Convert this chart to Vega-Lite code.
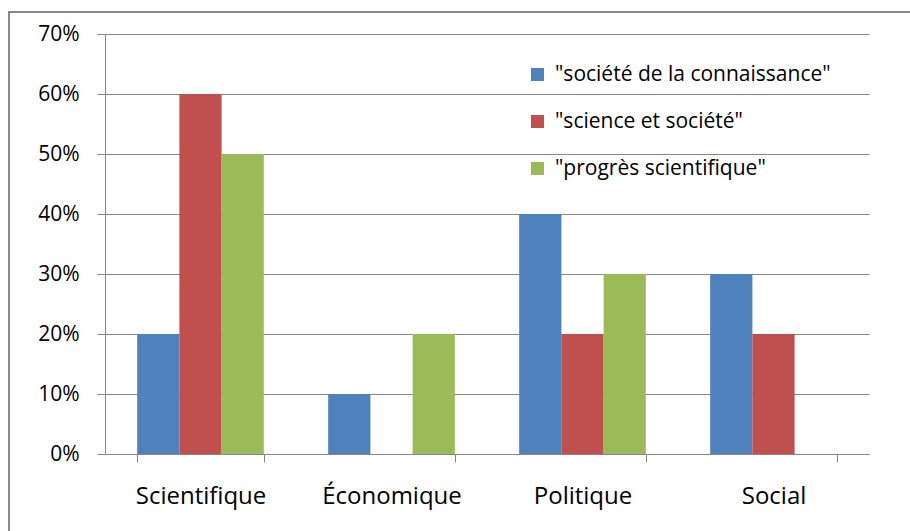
{
  "$schema": "https://vega.github.io/schema/vega-lite/v6.json",
  "width": 902,
  "height": 520,
  "autosize": {"type": "none"},
  "padding": {"left": 9, "top": 12, "right": 0, "bottom": 0},
  "background": "white",
  "config": {
    "view": {"stroke": "#888888", "strokeWidth": 2},
    "font": "Open Sans",
    "axis": {
      "labelFont": "Open Sans",
      "labelColor": "#000000",
      "domainColor": "#888888",
      "tickColor": "#888888",
      "gridColor": "#888888",
      "tickSize": 8,
      "title": null
    }
  },
  "data": {
    "values": [
      {"category": "Scientifique", "series": "\"société de la connaissance\"", "value": 0.2},
      {"category": "Scientifique", "series": "\"science et société\"", "value": 0.6},
      {"category": "Scientifique", "series": "\"progrès scientifique\"", "value": 0.5},
      {"category": "Économique", "series": "\"société de la connaissance\"", "value": 0.1},
      {"category": "Économique", "series": "\"science et société\"", "value": 0.0},
      {"category": "Économique", "series": "\"progrès scientifique\"", "value": 0.2},
      {"category": "Politique", "series": "\"société de la connaissance\"", "value": 0.4},
      {"category": "Politique", "series": "\"science et société\"", "value": 0.2},
      {"category": "Politique", "series": "\"progrès scientifique\"", "value": 0.3},
      {"category": "Social", "series": "\"société de la connaissance\"", "value": 0.3},
      {"category": "Social", "series": "\"science et société\"", "value": 0.2},
      {"category": "Social", "series": "\"progrès scientifique\"", "value": 0.0}
    ]
  },
  "mark": {"type": "bar"},
  "encoding": {
    "x": {
      "field": "category",
      "type": "nominal",
      "sort": ["Scientifique", "Économique", "Politique", "Social"],
      "scale": {"range": [96, 860], "paddingInner": 0.337, "paddingOuter": 0.1685},
      "axis": {
        "labelAngle": 0,
        "labelFontSize": 24,
        "tickBand": "extent",
        "labelPadding": 22,
        "offset": -78,
        "grid": false
      }
    },
    "xOffset": {
      "field": "series",
      "type": "nominal",
      "sort": ["\"société de la connaissance\"", "\"science et société\"", "\"progrès scientifique\""],
      "scale": {"paddingInner": 0, "paddingOuter": 0}
    },
    "y": {
      "field": "value",
      "type": "quantitative",
      "scale": {"domain": [0, 0.7], "nice": false, "range": [442, 22]},
      "axis": {
        "format": ".0%",
        "values": [0, 0.1, 0.2, 0.3, 0.4, 0.5, 0.6, 0.7],
        "grid": true,
        "labelFontSize": 21,
        "labelPadding": 18,
        "offset": -96
      }
    },
    "color": {
      "field": "series",
      "type": "nominal",
      "sort": ["\"société de la connaissance\"", "\"science et société\"", "\"progrès scientifique\""],
      "scale": {
        "domain": ["\"société de la connaissance\"", "\"science et société\"", "\"progrès scientifique\""],
        "range": ["#4F81BD", "#C0504D", "#9BBB59"]
      },
      "legend": {
        "title": null,
        "orient": "none",
        "legendX": 518,
        "legendY": 52,
        "padding": 0,
        "symbolType": "square",
        "symbolSize": 169,
        "symbolStrokeWidth": 0,
        "labelFont": "Open Sans",
        "labelFontSize": 21,
        "labelColor": "#000000",
        "labelOffset": 7,
        "rowPadding": 25,
        "labelLimit": 400
      }
    }
  }
}
